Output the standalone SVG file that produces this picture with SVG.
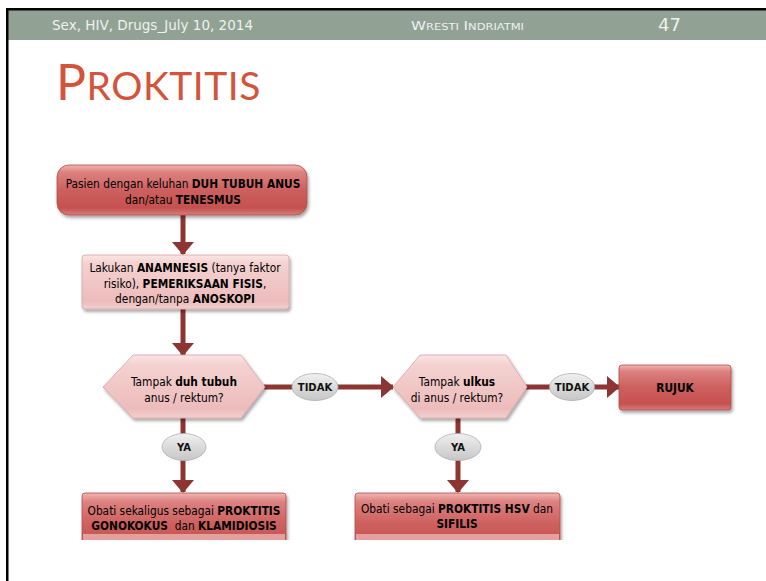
<svg xmlns="http://www.w3.org/2000/svg" width="766" height="581" viewBox="0 0 766 581">
  <defs>
    <style>
      .hdr { font-family: "DejaVu Sans Condensed", "DejaVu Sans", sans-serif; fill: #eef1ee; }
      .title { font-family: Lato, "Open Sans", sans-serif; fill: #d4533b; }
      .t { font-family: "DejaVu Sans Condensed", "DejaVu Sans", sans-serif; font-size: 11.8px; fill: #000; text-anchor: middle; }
      .b { font-weight: bold; }
      .pre { white-space: pre; }
      .lbl { font-family: "DejaVu Sans", sans-serif; font-size: 10px; font-weight: bold; fill: #111; text-anchor: middle; }
      .red { fill: url(#gRed); stroke: #b54a48; stroke-width: 0.8; filter: url(#shadow); }
      .pink { fill: url(#gPink); stroke: #d9a3a2; stroke-width: 0.8; filter: url(#shadow); }
      .oval { fill: url(#gGrey); stroke: #b0b0b0; stroke-width: 0.8; }
      .wire { stroke: #8c3533; stroke-width: 5; fill: none; }
      .arrow { marker-end: url(#head); }
    </style>
    <linearGradient id="gRed" x1="0" y1="0" x2="0" y2="1">
      <stop offset="0" stop-color="#f0b6b4"/>
      <stop offset="0.14" stop-color="#dc8280"/>
      <stop offset="0.5" stop-color="#cd605e"/>
      <stop offset="0.86" stop-color="#c4514f"/>
      <stop offset="1" stop-color="#d57e7c"/>
    </linearGradient>
    <linearGradient id="gPink" x1="0" y1="0" x2="0" y2="1">
      <stop offset="0" stop-color="#fae6e5"/>
      <stop offset="0.15" stop-color="#f4d2d1"/>
      <stop offset="0.85" stop-color="#ecbcbb"/>
      <stop offset="1" stop-color="#f2cfce"/>
    </linearGradient>
    <linearGradient id="gGrey" x1="0" y1="0" x2="0" y2="1">
      <stop offset="0" stop-color="#f0f0f0"/>
      <stop offset="1" stop-color="#c6c6c6"/>
    </linearGradient>
    <filter id="shadow" x="-10%" y="-20%" width="125%" height="150%">
      <feDropShadow dx="1.5" dy="2.5" stdDeviation="1.8" flood-color="#000" flood-opacity="0.35"/>
    </filter>
    <marker id="head" markerUnits="userSpaceOnUse" markerWidth="13" markerHeight="22" refX="12" refY="11" orient="auto">
      <path d="M0,0 L13,11 L0,22 Z" fill="#8c3533"/>
    </marker>
    <clipPath id="cut">
      <rect x="0" y="0" width="766" height="540"/>
    </clipPath>
  </defs>

  <rect width="766" height="581" fill="#fff"/>

  <!-- slide header -->
  <rect x="8" y="10" width="758" height="30" fill="#91a295"/>
  <rect x="6" y="8" width="760" height="2.5" fill="#000"/>
  <rect x="6" y="8" width="2.5" height="573" fill="#000"/>
  <text class="hdr" x="52" y="30" font-size="13.5" textLength="201" lengthAdjust="spacingAndGlyphs">Sex, HIV, Drugs_July 10, 2014</text>
  <text class="hdr" x="411" y="30" font-size="12.5" textLength="113" lengthAdjust="spacingAndGlyphs">W<tspan font-size="9.5">RESTI</tspan> I<tspan font-size="9.5">NDRIATMI</tspan></text>
  <text class="hdr" x="658" y="31" font-size="17" textLength="23" lengthAdjust="spacingAndGlyphs">47</text>

  <!-- slide title -->
  <text class="title" x="56" y="100" font-size="50" letter-spacing="0.5">P<tspan font-size="39">ROKTITIS</tspan></text>

  <!-- connectors -->
  <g id="connectors">
    <line class="wire arrow" x1="183" y1="215" x2="183" y2="254"/>
    <line class="wire arrow" x1="183" y1="309" x2="183" y2="355"/>
    <line class="wire arrow" x1="264" y1="387" x2="393" y2="387"/>
    <line class="wire arrow" x1="183" y1="418" x2="183" y2="492"/>
    <line class="wire arrow" x1="526" y1="387" x2="619" y2="387"/>
    <line class="wire arrow" x1="458" y1="418" x2="458" y2="492"/>
    <g id="lbl-tidak-1">
      <ellipse class="oval" cx="315" cy="387" rx="23" ry="13.5"/>
      <text class="lbl" x="315" y="390.5">TIDAK</text>
    </g>
    <g id="lbl-ya-1">
      <ellipse class="oval" cx="184" cy="447" rx="22" ry="13.5"/>
      <text class="lbl" x="184" y="450.5">YA</text>
    </g>
    <g id="lbl-tidak-2">
      <ellipse class="oval" cx="572" cy="387" rx="22.5" ry="13.5"/>
      <text class="lbl" x="572" y="390.5">TIDAK</text>
    </g>
    <g id="lbl-ya-2">
      <ellipse class="oval" cx="458" cy="447" rx="23" ry="13.5"/>
      <text class="lbl" x="458" y="450.5">YA</text>
    </g>
  </g>

  <!-- nodes -->
  <g id="start">
    <rect class="red" x="57" y="165" width="250" height="50" rx="12"/>
    <text class="t" x="183" y="188">Pasien dengan keluhan <tspan class="b">DUH TUBUH ANUS</tspan></text>
    <text class="t" x="183" y="204">dan/atau <tspan class="b">TENESMUS</tspan></text>
  </g>

  <g id="anamnesis">
    <rect class="pink" x="82" y="255" width="207" height="54" rx="3"/>
    <text class="t" x="185" y="272">Lakukan <tspan class="b">ANAMNESIS</tspan> (tanya faktor</text>
    <text class="t" x="185" y="288">risiko), <tspan class="b">PEMERIKSAAN FISIS</tspan>,</text>
    <text class="t" x="185" y="303">dengan/tanpa <tspan class="b">ANOSKOPI</tspan></text>
  </g>

  <g id="q-duh">
    <polygon class="pink" points="103,387 133,355 241,355 265,387 241,418 133,418"/>
    <text class="t" x="184" y="386">Tampak <tspan class="b">duh tubuh</tspan></text>
    <text class="t" x="184" y="402">anus / rektum?</text>
  </g>

  <g id="q-ulkus">
    <polygon class="pink" points="393,387 420,355 506,355 527,387 506,418 420,418"/>
    <text class="t" x="457" y="386">Tampak <tspan class="b">ulkus</tspan></text>
    <text class="t" x="457" y="402">di anus / rektum?</text>
  </g>

  <g id="rujuk">
    <rect class="red" x="619" y="365" width="112" height="45" rx="3"/>
    <text class="t b" x="675" y="392" font-size="12.5">RUJUK</text>
  </g>

  <g id="obati-gono" clip-path="url(#cut)">
    <rect class="red" x="82" y="493" width="204" height="62" rx="3"/>
    <rect x="83" y="534" width="202" height="6" fill="#e4a09e"/>
    <text class="t" x="184" y="515">Obati sekaligus sebagai <tspan class="b">PROKTITIS</tspan></text>
    <text class="t pre" x="184" y="530"><tspan class="b">GONOKOKUS</tspan>  dan <tspan class="b">KLAMIDIOSIS</tspan></text>
  </g>

  <g id="obati-hsv" clip-path="url(#cut)">
    <rect class="red" x="355" y="493" width="205" height="62" rx="3"/>
    <rect x="356" y="534" width="203" height="6" fill="#e4a09e"/>
    <text class="t" x="457" y="513">Obati sebagai <tspan class="b">PROKTITIS HSV</tspan> dan</text>
    <text class="t" x="457" y="528"><tspan class="b">SIFILIS</tspan></text>
  </g>
</svg>
